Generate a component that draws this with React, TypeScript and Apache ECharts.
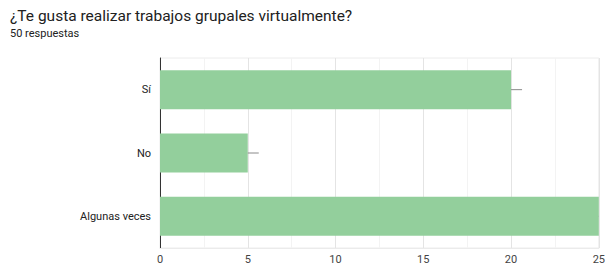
import React, { useEffect, useRef } from "react";
import * as echarts from "echarts";

const title = "¿Te gusta realizar trabajos grupales virtualmente?";
const subtitle = "50 respuestas";
const categories = ["Sí", "No", "Algunas veces"];
const values = [20, 5, 25];

export default function App() {
  const ref = useRef<HTMLDivElement>(null);
  useEffect(() => {
    const chart = echarts.init(ref.current!, null, { renderer: "svg" });
    chart.setOption({
      animation: false,
      backgroundColor: "#fff",
      title: [
        {
          text: title,
          left: 10,
          top: 8,
          padding: 0,
          textStyle: { fontFamily: "Roboto", fontSize: 15.5, fontWeight: "normal", color: "#212121" },
        },
        {
          text: subtitle,
          left: 10,
          top: 28,
          padding: 0,
          textStyle: { fontFamily: "Roboto", fontSize: 11, fontWeight: "normal", color: "#212121" },
        },
      ],
      grid: {
        left: 160,
        right: 8,
        top: 58,
        bottom: 21,
        containLabel: false,
        show: true,
        borderColor: "#ececec",
        borderWidth: 1,
      },
      xAxis: {
        type: "value",
        min: 0,
        max: 25,
        interval: 5,
        axisLine: { show: true, lineStyle: { color: "#ebebeb" } },
        axisTick: { show: false },
        axisLabel: { fontFamily: "Roboto", fontSize: 11, color: "#444", margin: 6 },
        splitLine: { show: true, lineStyle: { color: "#e4e4e4" } },
        minorTick: { show: false, splitNumber: 2 },
        minorSplitLine: { show: true, lineStyle: { color: "#f3f3f3" } },
      },
      yAxis: {
        type: "category",
        data: categories,
        inverse: true,
        axisLine: { show: true, lineStyle: { color: "#333" } },
        axisTick: { show: false },
        axisLabel: { fontFamily: "Roboto", fontSize: 11, color: "#222", margin: 9 },
        splitLine: { show: false },
      },
      series: [
        {
          type: "bar",
          data: values,
          barWidth: "61.5%",
          itemStyle: { color: "#93cf9c" },
          z: 2,
        },
        {
          type: "custom",
          data: values.map((v, i) => [v, i]),
          z: 3,
          clip: true,
          renderItem: (params: any, api: any) => {
            const p = api.coord([api.value(0), api.value(1)]);
            return {
              type: "line",
              shape: { x1: p[0], y1: p[1], x2: p[0] + 11, y2: p[1] },
              style: { stroke: "#8a8a8a", lineWidth: 1 },
            };
          },
        },
      ],
    });
    return () => chart.dispose();
  }, []);
  return (
    <div
      ref={ref}
      style={{ position: "absolute", left: 0, top: 0, width: 608, height: 269 }}
    />
  );
}
